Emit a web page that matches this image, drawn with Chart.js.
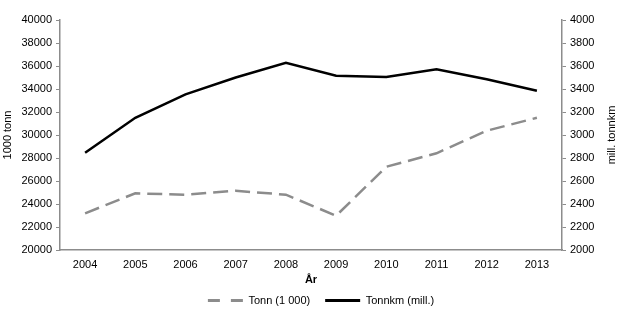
<!DOCTYPE html>
<html><head><meta charset="utf-8">
<script src="https://cdn.jsdelivr.net/npm/chart.js@4/dist/chart.umd.min.js"></script>
<style>html,body{margin:0;padding:0;background:#fff;}canvas{display:block;}</style>
</head><body>
<canvas id="c" width="620" height="322"></canvas>
<script>
const years = ['2004','2005','2006','2007','2008','2009','2010','2011','2012','2013'];
const tonn = [23190, 24930, 24810, 25150, 24810, 22980, 27240, 28410, 30370, 31500];
const tonnkm = [2846, 3150, 3354, 3500, 3628, 3515, 3504, 3571, 3484, 3385];
const leftTitle = '1000 tonn';
const rightTitle = 'mill. tonnkm';
const xTitle = 'År';
const FONT = 'Liberation Sans, Arial, sans-serif';

const helperPlugin = {
  id: 'helper',
  afterInit(chart) {
    const lg = chart.legend;
    if (lg) {
      const origFit = lg.fit;
      lg.fit = function () { origFit.call(this); this.height = 40; };
    }
  },
  afterLayout(chart) {
    const lg = chart.legend;
    if (lg) { lg.left += 11; lg.right += 11; lg.top += 2; lg.bottom += 2; }
  },
  afterDraw(chart) {
    const ctx = chart.ctx;
    ctx.save();
    ctx.fillStyle = '#000';
    ctx.font = '11px ' + FONT;
    ctx.textAlign = 'center';
    ctx.textBaseline = 'middle';
    ctx.translate(612, (chart.chartArea.top + chart.chartArea.bottom) / 2);
    ctx.rotate(-Math.PI / 2);
    ctx.fillText(rightTitle, 0, 0);
    ctx.restore();
  }
};

new Chart(document.getElementById('c'), {
  type: 'line',
  data: {
    labels: years,
    datasets: [
      { label: 'Tonn (1 000)', data: tonn, yAxisID: 'y', borderColor: '#8c8c8c', backgroundColor: '#8c8c8c',
        borderWidth: 2.5, borderDash: [15, 7], pointRadius: 0, tension: 0 },
      { label: 'Tonnkm (mill.)', data: tonnkm, yAxisID: 'y1', borderColor: '#000', backgroundColor: '#000',
        borderWidth: 2.5, pointRadius: 0, tension: 0 }
    ]
  },
  options: {
    responsive: false,
    animation: false,
    layout: { padding: { top: 20, left: 0, right: 0, bottom: 4 } },
    plugins: {
      tooltip: { enabled: false },
      legend: {
        position: 'bottom',
        labels: {
          color: '#000',
          font: { family: FONT, size: 11 },
          usePointStyle: true,
          pointStyle: 'line',
          pointStyleWidth: 35,
          boxHeight: 11,
          padding: 15,
          generateLabels(chart) {
            const items = Chart.defaults.plugins.legend.labels.generateLabels(chart);
            items.forEach((it, i) => {
              it.pointStyle = 'line';
              it.lineWidth = 3;
              if (i === 0) it.lineDash = [12, 11];
            });
            return items;
          }
        }
      }
    },
    scales: {
      x: {
        offset: true,
        grid: { display: false },
        border: { display: true, color: '#8c8c8c', width: 1.5 },
        ticks: { color: '#000', font: { family: FONT, size: 11 }, padding: 0, maxRotation: 0 },
        title: { display: true, text: xTitle, color: '#000', font: { family: FONT, size: 11, weight: 'bold' }, padding: { top: 0, bottom: -9 } },
        afterFit(s) { s.height = 28; }
      },
      y: {
        position: 'left',
        min: 20000, max: 40000,
        ticks: { stepSize: 2000, color: '#000', font: { family: FONT, size: 11 }, padding: 4, callback: v => String(v) },
        grid: { drawOnChartArea: false, drawTicks: true, tickLength: 4, color: '#8c8c8c' },
        border: { display: true, color: '#8c8c8c', width: 1.5 },
        title: { display: true, text: leftTitle, color: '#000', font: { family: FONT, size: 11 }, padding: { top: 1, bottom: 0 } },
        afterFit(s) { s.width = 60; }
      },
      y1: {
        position: 'right',
        min: 2000, max: 4000,
        ticks: { stepSize: 200, color: '#000', font: { family: FONT, size: 11 }, padding: 4, callback: v => String(v) },
        grid: { drawOnChartArea: false, drawTicks: true, tickLength: 4, color: '#8c8c8c' },
        border: { display: true, color: '#8c8c8c', width: 1.5 },
        afterFit(s) { s.width = 58; }
      }
    }
  },
  plugins: [helperPlugin]
});
</script>
</body></html>
